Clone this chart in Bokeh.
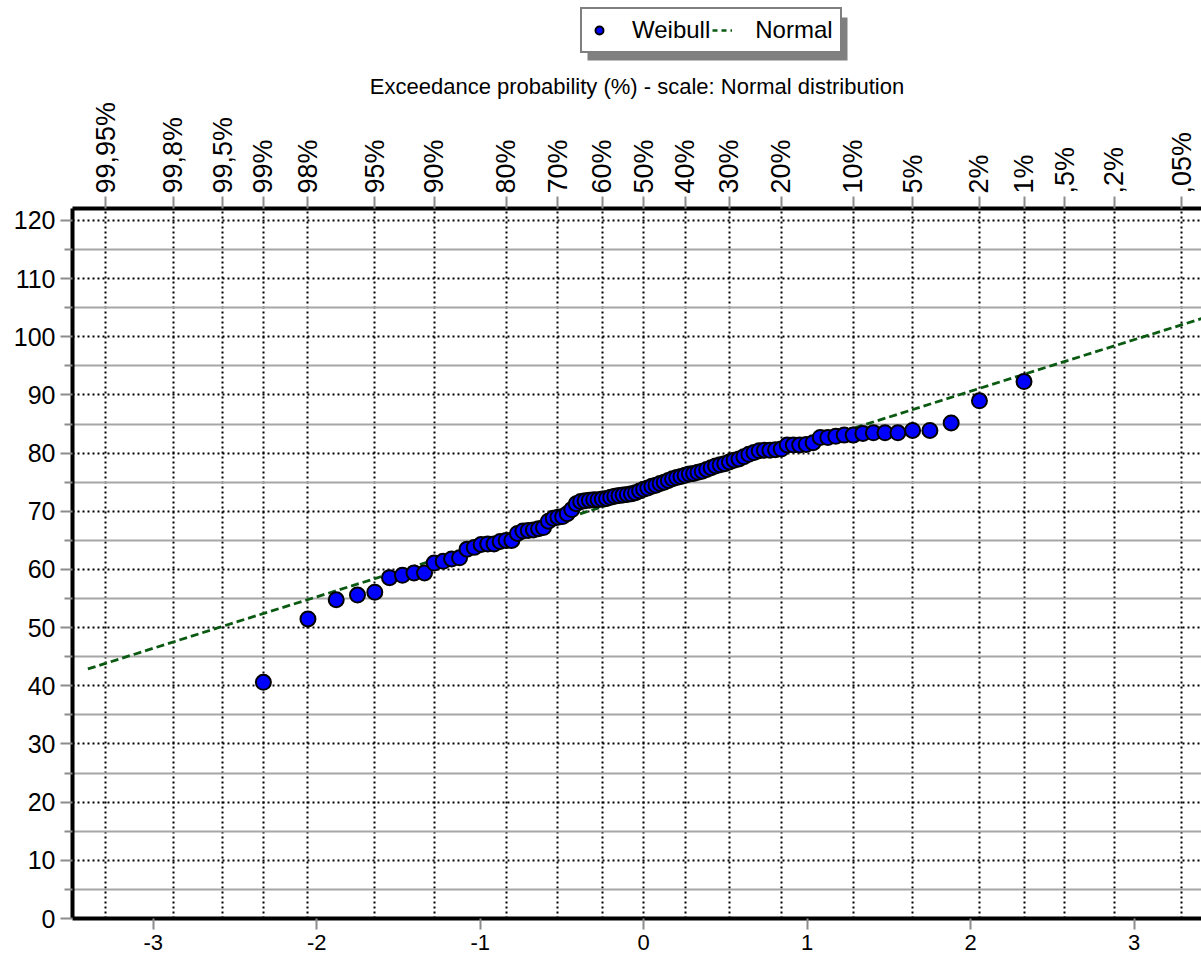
import statistics
from bokeh.plotting import figure
from bokeh.layouts import column
from bokeh.models import (Range1d, LinearAxis, FixedTicker, Legend, LegendItem,
                          CustomJSTickFormatter, BoxAnnotation)
from bokeh.embed import file_html
from bokeh.resources import INLINE

# ---------------- data ----------------
exceed_labels = ["99,95%", "99,8%", "99,5%", "99%", "98%", "95%", "90%", "80%", "70%",
                 "60%", "50%", "40%", "30%", "20%", "10%", "5%", "2%", "1%", ",5%",
                 ",2%", ",05%"]
exceed_pct = [99.95, 99.8, 99.5, 99, 98, 95, 90, 80, 70, 60, 50, 40, 30, 20, 10, 5, 2,
              1, 0.5, 0.2, 0.05]

bottom_ticks = [-3, -2, -1, 0, 1, 2, 3]
y_ticks = [0, 10, 20, 30, 40, 50, 60, 70, 80, 90, 100, 110, 120]
y_minor_ticks = [5, 15, 25, 35, 45, 55, 65, 75, 85, 95, 105, 115]

# sorted sample values (Weibull plotting positions i/(n+1))
weibull_values = [
    40.6, 51.5, 54.8, 55.6, 56.1, 58.6, 59.0, 59.4, 59.4, 61.1,
    61.4, 61.8, 62.0, 63.5, 63.8, 64.3, 64.4, 64.4, 64.8, 65.0,
    65.0, 66.2, 66.6, 66.7, 66.8, 67.0, 67.2, 68.3, 68.8, 69.0,
    69.1, 69.6, 70.3, 71.3, 71.7, 71.8, 71.9, 72.0, 72.0, 72.1,
    72.2, 72.4, 72.6, 72.7, 72.8, 72.9, 73.0, 73.2, 73.5, 73.8,
    74.0, 74.3, 74.5, 74.8, 75.0, 75.3, 75.6, 75.8, 76.0, 76.2,
    76.4, 76.5, 76.7, 76.9, 77.2, 77.5, 77.8, 78.0, 78.2, 78.5,
    78.8, 79.0, 79.4, 79.8, 80.1, 80.4, 80.5, 80.5, 80.6, 80.7,
    81.4, 81.4, 81.4, 81.5, 81.8, 82.7, 82.7, 82.9, 83.1, 83.1,
    83.4, 83.5, 83.5, 83.5, 83.9, 83.9, 85.2, 89.0, 92.3,
]

# fitted normal distribution line (standard normal variate, value)
normal_z = [-3.40, -2.50, -1.50, -0.50, 0.50, 1.50, 2.50, 3.42]
normal_values = [42.9, 50.9, 59.7, 68.6, 77.4, 86.2, 95.1, 103.2]

# ---------------- probability scale ----------------
nd = statistics.NormalDist()
tick_z = [nd.inv_cdf(1 - p / 100.0) for p in exceed_pct]
n = len(weibull_values)
weibull_z = [nd.inv_cdf(i / (n + 1.0)) for i in range(1, n + 1)]

FONT = "Liberation Sans"
TICK_GRAY = "#8c8c8c"
BLUE = "#0000ff"
GREEN = "#0b5a12"

# ---------------- legend strip ----------------
LEG_H = 64
LEFT = 72
leg = figure(width=1201, height=LEG_H, x_range=Range1d(LEFT, 1201),
             y_range=Range1d(LEG_H, 0), output_backend="svg",
             toolbar_location=None, x_axis_location=None, y_axis_location=None,
             min_border_left=LEFT, min_border_right=0, min_border_top=0,
             min_border_bottom=0)
leg.outline_line_color = None
leg.xgrid.visible = False
leg.ygrid.visible = False
leg.background_fill_color = "white"
leg.border_fill_color = "white"
# the legend's sample renderers use ranges that keep them out of view
leg.extra_x_ranges = {"off": Range1d(1000, 1001)}
leg.extra_y_ranges = {"off": Range1d(1000, 1001)}

shadow = BoxAnnotation(left=587, right=847, top=17, bottom=60,
                       fill_color="#808080", fill_alpha=1.0, line_color=None)
leg.add_layout(shadow)

leg_sc = leg.scatter(weibull_z, weibull_values, size=15, fill_color=BLUE,
                     line_color="black", line_width=2,
                     x_range_name="off", y_range_name="off")
leg_ln = leg.line(normal_z, normal_values, line_color=GREEN, line_width=2.5,
                  line_dash="5 4", x_range_name="off", y_range_name="off")

legend = Legend(items=[LegendItem(label="Weibull", renderers=[leg_sc]),
                       LegendItem(label="Normal", renderers=[leg_ln])],
                orientation="horizontal", location=(580 - LEFT, 11))
legend.label_text_font = FONT
legend.label_text_font_size = "24px"
legend.label_text_color = "black"
legend.glyph_width = 20
legend.glyph_height = 20
legend.label_standoff = 23
legend.spacing = 2
legend.padding = 7
legend.margin = 0
legend.border_line_color = "black"
legend.border_line_width = 2
legend.background_fill_color = "white"
legend.background_fill_alpha = 1.0
leg.add_layout(legend)

# ---------------- main plot ----------------
p = figure(width=1201, height=963 - LEG_H,
           x_range=Range1d(-3.494, 3.412), y_range=Range1d(0, 122.06),
           output_backend="svg", toolbar_location=None,
           min_border_left=LEFT, min_border_right=0, min_border_top=208 - LEG_H,
           min_border_bottom=45)
p.outline_line_color = None
p.background_fill_color = "white"
p.border_fill_color = "white"

# bottom axis
xa = p.xaxis[0]
xa.ticker = FixedTicker(ticks=bottom_ticks)
xa.formatter = CustomJSTickFormatter(code="return tick.toFixed(0);")
xa.axis_line_width = 4
xa.axis_line_color = "black"
xa.major_tick_line_color = TICK_GRAY
xa.major_tick_line_width = 2
xa.major_tick_out = 11
xa.major_tick_in = 0
xa.minor_tick_line_color = None
xa.major_label_text_font = FONT
xa.major_label_text_font_size = "22px"
xa.major_label_text_color = "black"
xa.major_label_standoff = 5

# left axis
ya = p.yaxis[0]
ya.ticker = FixedTicker(ticks=y_ticks, minor_ticks=y_minor_ticks)
ya.axis_line_width = 4
ya.axis_line_color = "black"
ya.major_tick_line_color = TICK_GRAY
ya.major_tick_line_width = 2
ya.major_tick_out = 12
ya.major_tick_in = 0
ya.minor_tick_line_color = TICK_GRAY
ya.minor_tick_line_width = 2
ya.minor_tick_out = 8
ya.minor_tick_in = 0
ya.major_label_text_font = FONT
ya.major_label_text_font_size = "25px"
ya.major_label_text_color = "black"
ya.major_label_standoff = 5

# top axis (exceedance probability)
top_ticker = FixedTicker(ticks=tick_z)
top_fmt = CustomJSTickFormatter(args=dict(zs=tick_z, labels=exceed_labels), code="""
    let best = 0;
    for (let i = 0; i < zs.length; i++) {
        if (Math.abs(zs[i] - tick) < Math.abs(zs[best] - tick)) { best = i; }
    }
    return labels[best];
""")
ta = LinearAxis(ticker=top_ticker, formatter=top_fmt,
                axis_label="Exceedance probability (%) - scale: Normal distribution")
ta.axis_line_width = 4
ta.axis_line_color = "black"
ta.major_tick_line_color = TICK_GRAY
ta.major_tick_line_width = 2
ta.major_tick_out = 12
ta.major_tick_in = 0
ta.minor_tick_line_color = None
ta.major_label_orientation = "vertical"
ta.major_label_text_font = FONT
ta.major_label_text_font_size = "27px"
ta.major_label_text_color = "black"
ta.major_label_standoff = 3
ta.axis_label_text_font = FONT
ta.axis_label_text_font_size = "22px"
ta.axis_label_text_font_style = "normal"
ta.axis_label_text_color = "black"
ta.axis_label_standoff = 0
p.add_layout(ta, "above")

# grids
xg = p.xgrid[0]
xg.ticker = top_ticker
xg.grid_line_color = "black"
xg.grid_line_dash = "2 3"
xg.grid_line_width = 2

yg = p.ygrid[0]
yg.grid_line_color = "black"
yg.grid_line_dash = "2 3"
yg.grid_line_width = 2
yg.minor_grid_line_color = "#a6a6a6"
yg.minor_grid_line_width = 2

# data
ln = p.line(normal_z, normal_values, line_color=GREEN, line_width=2.8,
            line_dash="8 4")
sc = p.scatter(weibull_z, weibull_values, size=15, fill_color=BLUE,
               line_color="black", line_width=2)

layout = column(leg, p, spacing=0)
open("out.html", "w").write(file_html(layout, INLINE))
